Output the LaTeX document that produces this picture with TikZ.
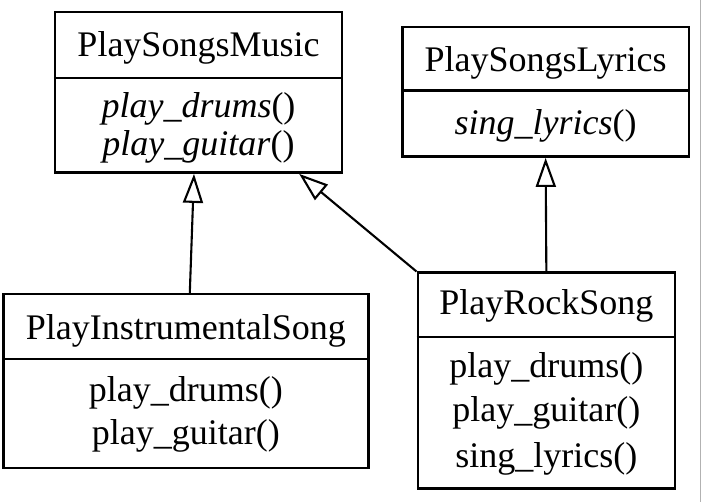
\documentclass[tikz,border=0pt]{standalone}
\usepackage{fontspec}
\setmainfont{Liberation Serif}
\usetikzlibrary{arrows.meta}
\begin{document}
\begin{tikzpicture}[x=1pt,y=-1pt,
  box/.style={draw, line width=2.4pt, inner sep=0pt},
  divider/.style={line width=2.4pt},
  txt/.style={anchor=base, inner sep=0pt, font=\fontsize{36}{43}\selectfont},
  inh/.style={line width=2.1pt, -{Triangle[open, length=29pt, width=20pt, line width=2.1pt]}}]
\useasboundingbox (0,0) rectangle (702,502);
\draw[gray!60, line width=1.5pt] (700.5,0) -- (700.5,502);

% PlaySongsMusic
\node[box, minimum width=287pt, minimum height=160.4pt] (psm) at (198.5,92.5) {};
\draw[divider] (psm.west |- 0,78.3) -- (psm.east |- 0,78.3);
\node[txt] (psmt) at (198.5,57) {PlaySongsMusic};
\node[txt] (psm1) at (198.5,118) {\textit{play\_drums}()};
\node[txt] (psm2) at (198.5,156) {\textit{play\_guitar}()};

% PlaySongsLyrics
\node[box, minimum width=286.7pt, minimum height=129.4pt] (psl) at (545.65,92) {};
\draw[divider] (psl.west |- 0,90.7) -- (psl.east |- 0,90.7);
\node[txt] (pslt) at (545.65,71.7) {PlaySongsLyrics};
\node[txt] (psl1) at (545.65,135) {\textit{sing\_lyrics}()};

% PlayInstrumentalSong
\node[box, minimum width=365pt, minimum height=174.3pt] (pis) at (185.8,381.15) {};
\draw[divider] (pis.west |- 0,359) -- (pis.east |- 0,359);
\node[txt] (pist) at (185.8,340) {PlayInstrumentalSong};
\node[txt] (pis1) at (185.8,402) {play\_drums()};
\node[txt] (pis2) at (185.8,445) {play\_guitar()};

% PlayRockSong
\node[box, minimum width=257.3pt, minimum height=215.8pt] (prs) at (546.35,380.6) {};
\draw[divider] (prs.west |- 0,337.3) -- (prs.east |- 0,337.3);
\node[txt] (prst) at (546.35,315) {PlayRockSong};
\node[txt] (prs1) at (546.35,378) {play\_drums()};
\node[txt] (prs2) at (546.35,422) {play\_guitar()};
\node[txt] (prs3) at (546.35,468) {sing\_lyrics()};

% inheritance
\draw[inh] ([xshift=4pt]pis.north) -- ([xshift=-4.5pt]psm.south);
\draw[inh] (prs.north west) -- ([xshift=-44pt]psm.south east);
\draw[inh] (prs.north) -- (psl.south);
\end{tikzpicture}
\end{document}
